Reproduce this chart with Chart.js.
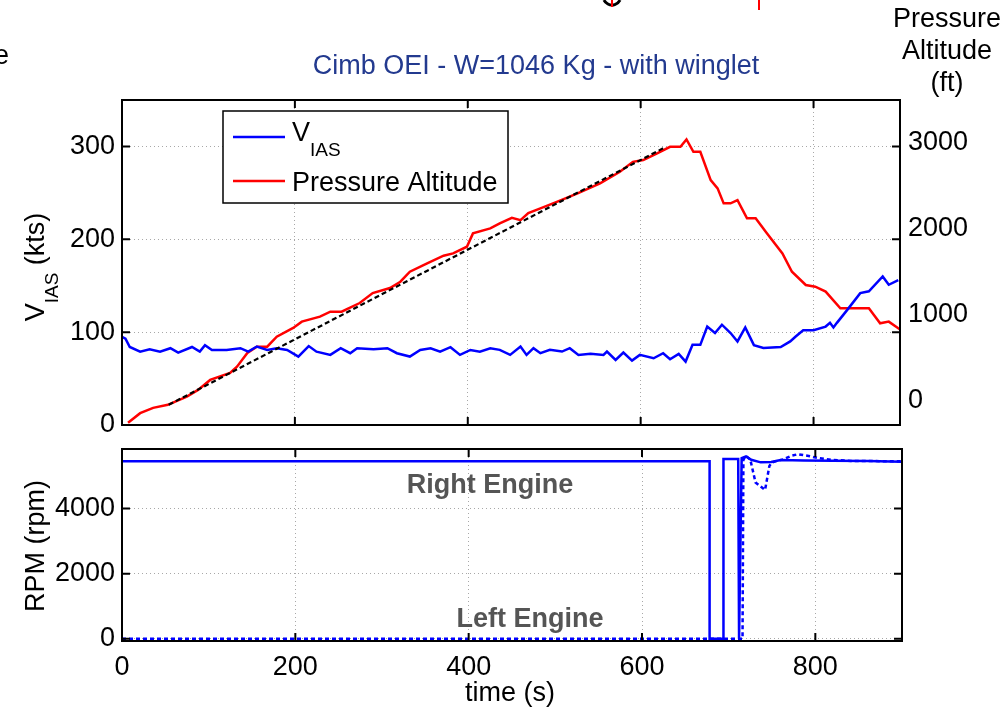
<!DOCTYPE html>
<html>
<head>
<meta charset="utf-8">
<script src="https://cdn.jsdelivr.net/npm/chart.js@4.4.1/dist/chart.umd.min.js"></script>
<style>
  body { margin: 0; background: #fff; width: 1000px; height: 715px; position: relative; overflow: hidden; }
  #topChart { position: absolute; left: 0; top: 0; }
  #bottomChart { position: absolute; left: 0; top: 440px; }
</style>
</head>
<body>
<canvas id="topChart" width="1000" height="440"></canvas>
<canvas id="bottomChart" width="1000" height="275"></canvas>
<script>
// ---- data ----
const timeTicks = [0, 200, 400, 600, 800];
const iasTicks = [0, 100, 200, 300];
const altTicks = [0, 1000, 2000, 3000];
const rpmTicks = [0, 2000, 4000];

// V_IAS (kts) vs time (s)
const iasTime = [0, 4, 9, 21, 32, 44, 56, 65, 81, 90, 96, 104, 121, 137, 146, 156, 168, 179, 191, 204,
  216, 225, 241, 253, 264, 272, 291, 307, 318, 333, 345, 357, 368, 380, 391, 403, 414, 426, 437, 449,
  461, 468, 476, 484, 495, 509, 518, 528, 542, 557, 561, 571, 580, 590, 599, 615, 626, 634, 644, 652,
  660, 669, 677, 686, 694, 704, 712, 721, 731, 742, 762, 773, 779, 788, 800, 814, 819, 823, 827, 839,
  854, 864, 880, 887, 898];
const iasKts = [95, 93, 84, 79, 81.5, 79, 82.7, 78, 84, 79, 86, 80.8, 80.8, 82.7, 79, 84.5, 80.8, 82.7, 80.8, 73.7,
  85, 79, 75.5, 82.7, 77.3, 82.7, 81.5, 82.7, 77.3, 73.7, 80.8, 82.7, 79, 83.8, 75.5, 80.8, 79, 82.7, 80.9, 75.5,
  84.5, 75.5, 82.7, 77.3, 80.9, 79.1, 82.7, 75.5, 76.6, 75.5, 79.1, 70.1, 78, 69.4, 75.5, 71.9, 77.3, 70.8, 76.6, 68.3,
  86.3, 86.3, 106, 99, 108, 99, 90, 105, 86, 83, 84, 90, 95, 102, 102, 106, 110, 105, 110, 124,
  142, 144, 160, 151, 156];

// Pressure altitude (ft) vs time (s)
const altTime = [7, 21, 36, 53, 75, 88, 102, 125, 133, 145, 156, 168, 179, 198, 208, 229, 241, 254, 275, 290,
  310, 322, 333, 353, 372, 383, 399, 406, 426, 437, 451, 461, 470, 484, 503, 527, 553, 576, 591, 603,
  619, 634, 646, 653, 661, 669, 681, 689, 696, 704, 712, 723, 733, 746, 764, 775, 791, 802, 814, 831,
  846, 864, 877, 887, 898, 900];
const altFt = [-255, -143, -81, -46, 50, 127, 243, 324, 397, 556, 629, 629, 745, 846, 919, 977, 1035, 1035, 1135, 1251,
  1309, 1382, 1498, 1595, 1684, 1711, 1788, 1943, 2001, 2059, 2124, 2097, 2178, 2233, 2309, 2407, 2523, 2657, 2773, 2793,
  2870, 2947, 2947, 3032, 2889, 2889, 2561, 2465, 2291, 2291, 2329, 2117, 2117, 1943, 1711, 1498, 1344, 1324, 1267, 1074,
  1074, 1074, 900, 919, 842, 830];

// linear fit of the climb (ft)
const fitTime = [54, 628];
const fitFt = [-46, 2940];

// engine RPM vs time (s)
const rightTime = [0, 678, 678, 694, 694, 711, 712, 715, 720, 726, 737, 749, 760, 787, 820, 860, 900];
const rightRpm = [5450, 5450, 0, 0, 5520, 5520, 0, 5550, 5600, 5500, 5420, 5430, 5490, 5480, 5470, 5460, 5440];
const leftTime = [0, 716, 717, 720, 725, 731, 742, 747, 750, 764, 772, 780, 791, 802, 818, 841, 900];
const leftRpm = [0, 0, 5500, 5620, 5500, 4800, 4570, 5310, 5420, 5520, 5620, 5670, 5620, 5560, 5500, 5465, 5450];

const xy = (xs, ys) => xs.map((x, i) => ({ x: x, y: ys[i] }));

Chart.defaults.font.family = "'Liberation Sans', Arial, sans-serif";
Chart.defaults.color = '#000';

const FONT = "'Liberation Sans', Arial, sans-serif";
const gridStyle = { color: '#a8a8a8', lineWidth: 1, drawTicks: false };
const tickFont = { size: 27, family: FONT };
const plain = v => String(v);

// keep the plot boxes exactly where the picture has them
const noPad = s => { s.paddingTop = 0; s.paddingBottom = 0; s.paddingLeft = 0; s.paddingRight = 0; };

// matlab style box with inward ticks
const boxPlugin = {
  id: 'box',
  afterDatasetsDraw(chart) {
    const { ctx, chartArea: a, scales } = chart;
    ctx.save();
    ctx.strokeStyle = '#000';
    ctx.lineWidth = 2;
    ctx.strokeRect(a.left, a.top, a.right - a.left, a.bottom - a.top);
    ctx.beginPath();
    scales.x.ticks.forEach(t => {
      const px = scales.x.getPixelForValue(t.value);
      ctx.moveTo(px, a.bottom); ctx.lineTo(px, a.bottom - 8);
      ctx.moveTo(px, a.top); ctx.lineTo(px, a.top + 8);
    });
    scales.y.ticks.forEach(t => {
      const py = scales.y.getPixelForValue(t.value);
      ctx.moveTo(a.left, py); ctx.lineTo(a.left + 8, py);
      ctx.moveTo(a.right, py); ctx.lineTo(a.right - 8, py);
    });
    ctx.stroke();
    ctx.restore();
  }
};

const topText = {
  id: 'topText',
  afterDraw(chart) {
    const ctx = chart.ctx;
    ctx.save();
    ctx.textBaseline = 'middle';
    ctx.textAlign = 'center';
    ctx.font = '27px ' + FONT;
    ctx.fillStyle = '#233a8f';
    ctx.fillText('Cimb OEI - W=1046 Kg - with winglet', 536, 67);

    ctx.fillStyle = '#000';
    ctx.fillText('Pressure', 947, 20);
    ctx.fillText('Altitude', 947, 52);
    ctx.fillText('(ft)', 947, 84);
    ctx.textAlign = 'left';
    ctx.fillText('e', -6, 57);

    // cropped bits at the top edge
    ctx.strokeStyle = '#000';
    ctx.lineWidth = 3;
    ctx.beginPath();
    ctx.arc(612, -4, 9, 0.15 * Math.PI, 0.85 * Math.PI);
    ctx.stroke();
    ctx.strokeStyle = '#ff0000';
    ctx.lineWidth = 2;
    ctx.beginPath();
    ctx.moveTo(612, 0); ctx.lineTo(612, 7);
    ctx.moveTo(759, 0); ctx.lineTo(759, 10);
    ctx.stroke();

    // legend
    ctx.fillStyle = '#fff';
    ctx.fillRect(223, 111, 285, 92);
    ctx.strokeStyle = '#000';
    ctx.lineWidth = 1.5;
    ctx.strokeRect(223, 111, 285, 92);
    ctx.lineWidth = 2.5;
    ctx.strokeStyle = '#0000ff';
    ctx.beginPath(); ctx.moveTo(233, 137); ctx.lineTo(285, 137); ctx.stroke();
    ctx.strokeStyle = '#ff0000';
    ctx.beginPath(); ctx.moveTo(233, 181); ctx.lineTo(285, 181); ctx.stroke();
    ctx.fillStyle = '#000';
    ctx.textBaseline = 'alphabetic';
    ctx.font = '27px ' + FONT;
    ctx.fillText('V', 292, 141);
    const vw = ctx.measureText('V').width;
    ctx.font = '19px ' + FONT;
    ctx.fillText('IAS', 292 + vw, 156);
    ctx.font = '27px ' + FONT;
    ctx.fillText('Pressure Altitude', 292, 191);

    // left axis title, rotated
    ctx.translate(44, 267);
    ctx.rotate(-Math.PI / 2);
    ctx.font = '27px ' + FONT;
    const w1 = ctx.measureText('V').width;
    const w3 = ctx.measureText(' (kts)').width;
    ctx.font = '19px ' + FONT;
    const w2 = ctx.measureText('IAS').width;
    let x0 = -(w1 + w2 + w3) / 2;
    ctx.font = '27px ' + FONT;
    ctx.fillText('V', x0, 0);
    ctx.font = '19px ' + FONT;
    ctx.fillText('IAS', x0 + w1, 14);
    ctx.font = '27px ' + FONT;
    ctx.fillText(' (kts)', x0 + w1 + w2, 0);
    ctx.restore();
  }
};

const bottomText = {
  id: 'bottomText',
  afterDraw(chart) {
    const ctx = chart.ctx;
    ctx.save();
    ctx.textAlign = 'center';
    ctx.textBaseline = 'alphabetic';
    ctx.font = 'bold 27px ' + FONT;
    ctx.fillStyle = '#555555';
    ctx.fillText('Right Engine', 490, 53);
    ctx.fillText('Left Engine', 530, 187);
    ctx.fillStyle = '#000';
    ctx.font = '27px ' + FONT;
    ctx.fillText('time (s)', 510, 261);
    ctx.translate(44, 106);
    ctx.rotate(-Math.PI / 2);
    ctx.fillText('RPM (rpm)', 0, 0);
    ctx.restore();
  }
};

new Chart(document.getElementById('topChart').getContext('2d'), {
  type: 'line',
  data: {
    datasets: [{
      label: 'fit',
      data: xy(fitTime, fitFt),
      yAxisID: 'y2',
      borderColor: '#000',
      borderWidth: 2.2,
      borderDash: [5, 3],
      pointRadius: 0
    }, {
      label: 'V IAS',
      data: xy(iasTime, iasKts),
      yAxisID: 'y',
      borderColor: '#0000ff',
      borderWidth: 2.5,
      pointRadius: 0
    }, {
      label: 'Pressure Altitude',
      data: xy(altTime, altFt),
      yAxisID: 'y2',
      borderColor: '#ff0000',
      borderWidth: 2.5,
      pointRadius: 0
    }]
  },
  options: {
    responsive: false,
    animation: false,
    layout: { padding: { top: 100, left: 0, right: 0, bottom: 0 } },
    plugins: { legend: { display: false }, tooltip: { enabled: false } },
    scales: {
      x: {
        type: 'linear', min: 0, max: 900,
        ticks: { display: false },
        grid: gridStyle,
        border: { display: false, dash: [1, 3] },
        afterBuildTicks: s => { s.ticks = timeTicks.map(v => ({ value: v })); },
        afterFit: s => { s.height = 15; noPad(s); }
      },
      y: {
        position: 'left', min: 0, max: 350,
        ticks: { font: tickFont, padding: 7, color: '#000', callback: plain },
        grid: gridStyle,
        border: { display: false, dash: [1, 3] },
        afterBuildTicks: s => { s.ticks = iasTicks.map(v => ({ value: v })); },
        afterFit: s => { s.width = 122; noPad(s); }
      },
      y2: {
        position: 'right', min: -280, max: 3490,
        ticks: { font: tickFont, padding: 8, color: '#000', callback: plain },
        grid: { display: false, drawTicks: false },
        border: { display: false },
        afterBuildTicks: s => { s.ticks = altTicks.map(v => ({ value: v })); },
        afterFit: s => { s.width = 100; noPad(s); }
      }
    }
  },
  plugins: [boxPlugin, topText]
});

new Chart(document.getElementById('bottomChart').getContext('2d'), {
  type: 'line',
  data: {
    datasets: [{
      label: 'Left Engine',
      data: xy(leftTime, leftRpm),
      borderColor: '#0000ff',
      borderWidth: 2.5,
      borderDash: [4, 3],
      pointRadius: 0
    }, {
      label: 'Right Engine',
      data: xy(rightTime, rightRpm),
      borderColor: '#0000ff',
      borderWidth: 2.5,
      pointRadius: 0
    }]
  },
  options: {
    responsive: false,
    animation: false,
    layout: { padding: { top: 9, left: 0, right: 98, bottom: 0 } },
    plugins: { legend: { display: false }, tooltip: { enabled: false } },
    scales: {
      x: {
        type: 'linear', min: 0, max: 900,
        ticks: { font: tickFont, padding: 10, color: '#000', maxRotation: 0, callback: plain },
        grid: gridStyle,
        border: { display: false, dash: [1, 3] },
        afterBuildTicks: s => { s.ticks = timeTicks.map(v => ({ value: v })); },
        afterFit: s => { s.height = 74; noPad(s); }
      },
      y: {
        position: 'left', min: -70, max: 5830,
        ticks: { font: tickFont, padding: 7, color: '#000', callback: plain },
        grid: gridStyle,
        border: { display: false, dash: [1, 3] },
        afterBuildTicks: s => { s.ticks = rpmTicks.map(v => ({ value: v })); },
        afterFit: s => { s.width = 122; noPad(s); }
      }
    }
  },
  plugins: [boxPlugin, bottomText]
});
</script>
</body>
</html>
